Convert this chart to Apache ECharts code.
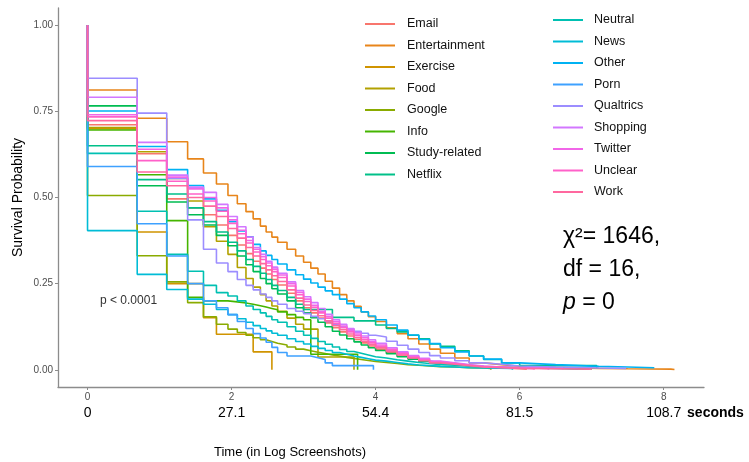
<!DOCTYPE html>
<html><head><meta charset="utf-8">
<script src="https://cdn.jsdelivr.net/npm/echarts@6/dist/echarts.min.js"></script>
<style>html,body{margin:0;padding:0;background:#fff}#c{width:749px;height:462px}</style>
</head><body><div id="c"></div>
<script>
// time grid (log of screenshot count)
const TIMES = [0, 0.69, 1.10, 1.39, 1.61, 1.79, 1.95, 2.08, 2.20, 2.30, 2.40, 2.48, 2.56, 2.64, 2.77, 2.89, 3.00,
  3.10, 3.20, 3.30, 3.40, 3.50, 3.60, 3.70, 3.80, 3.90, 4.00, 4.15, 4.30, 4.45, 4.60, 4.75, 4.90, 5.10, 5.30, 5.50, 5.75, 6.00, 6.50, 7.10, 7.50, 8.10];
const LEFT_NAMES = ['Email','Entertainment','Exercise','Food','Google','Info','Study-related','Netflix'];
const RIGHT_NAMES = ['Neutral','News','Other','Porn','Qualtrics','Shopping','Twitter','Unclear','Work'];
const COLORS = ['#F8766D','#E8851A','#D09400','#B2A100','#8AAB00','#45B500','#00BC52','#00C089','#00C0B2','#00BCD6','#00B2F3','#3EA1FF','#9C8DFF','#D277FF','#F166E8','#FF61C9','#FF689F'];

const email = [0.711,0.627,0.496,0.47,0.45,0.42,0.39,0.362,0.337,0.315,0.295,0.278,0.262,0.246,0.222,0.2,0.18,
  0.165,0.15,0.136,0.122,0.11,0.098,0.088,0.078,0.069,0.06,0.05,0.04,0.032,0.025,0.019,0.015,0.011,0.007,0.005,0.003,0.002];
const entertainment = [0.812,0.73,0.662,0.612,0.571,0.539,0.506,0.482,0.459,0.438,0.417,0.40,0.385,0.37,0.35,0.33,0.312,
  0.295,0.278,0.257,0.237,0.218,0.2,0.184,0.168,0.154,0.14,0.122,0.105,0.09,0.075,0.06,0.048,0.034,0.02,0.015,0.01,0.007,0.004,0.003,0.002,0.001];
const exercise = [0.70,0.40,0.25,0.25,0.151,0.103,0.103,0.103,0.103,0.052,0.052,0.052];
const food = [0.703,0.633,0.555,0.49,0.415,0.373,0.335,0.297,0.265,0.24,0.218,0.2,0.185,0.17,0.15,0.132,0.118,
  0.118,0.037,0.037,0.037,0.037,0.037];
const google = [0.506,0.331,0.255,0.195,0.154,0.132,0.118,0.108,0.1,0.093,0.087,0.082,0.077,0.072,0.066,0.06,0.055,
  0.051,0.047,0.043,0.04,0.036,0.033,0.03,0.027,0.024,0.021,0.018,0.015,0.013,0.011,0.009,0.008,0.006,0.005,0.004];
const info = [0.696,0.566,0.433,0.21,0.2,0.2,0.197,0.194,0.19,0.186,0.182,0.178,0.174,0.168,0.16,0.152,0.145,
  0.045,0.045,0.045,0.045,0.045,0.045,0.045];
const studyRelated = [0.766,0.534,0.487,0.45,0.42,0.39,0.36,0.33,0.305,0.285,0.265,0.25,0.235,0.22,0.2,0.18,0.165,
  0.151,0.138,0.125,0.112,0.101,0.09,0.081,0.072,0.064,0.056,0.047,0.038,0.031,0.025,0.02,0.016,0.012,0.009,0.007,0.005,0.004,0.002];
const netflix = [0.65,0.552,0.51,0.47,0.43,0.40,0.37,0.345,0.32,0.3,0.28,0.262,0.245,0.23,0.21,0.19,0.175,
  0.175,0.175,0.175,0.152,0.152,0.152,0.142,0.142,0.142,0.13,0.12,0.11,0.1,0.09,0.075,0.068,0.055,0.04,0.03,0.02,0.012,0.012];
const neutral = [0.628,0.46,0.335,0.286,0.245,0.224,0.214,0.2,0.185,0.175,0.165,0.155,0.145,0.138,0.125,0.112,0.1,
  0.091,0.082,0.074,0.066,0.059,0.053,0.048,0.043,0.038,0.034,0.029,0.025,0.021,0.018,0.015,0.013,0.011,0.009,0.008,0.006,0.005,0.003];
const news = [0.404,0.277,0.233,0.205,0.19,0.175,0.16,0.148,0.138,0.128,0.12,0.113,0.106,0.1,0.09,0.082,0.075,
  0.068,0.062,0.056,0.05,0.045,0.04,0.036,0.032,0.028,0.025,0.021,0.017,0.014,0.012,0.01,0.008,0.006,0.005,0.004];
const other = [0.751,0.648,0.581,0.535,0.496,0.463,0.43,0.403,0.386,0.364,0.345,0.332,0.32,0.307,0.29,0.276,0.263,
  0.252,0.24,0.229,0.218,0.205,0.192,0.18,0.168,0.156,0.145,0.13,0.115,0.101,0.088,0.076,0.064,0.052,0.04,0.031,0.02,0.015,0.01,0.008,0.006];
const porn = [0.59,0.424,0.33,0.25,0.2,0.18,0.16,0.14,0.12,0.105,0.092,0.08,0.065,0.05,0.04,0.04,0.04,
  0.035,0.03,0.02,0.012,0.012,0.012,0.012,0.012,0.012];
const qualtrics = [0.846,0.745,0.555,0.435,0.35,0.31,0.285,0.262,0.245,0.232,0.22,0.21,0.2,0.19,0.178,0.17,0.163,
  0.155,0.148,0.14,0.132,0.125,0.118,0.112,0.106,0.1,0.095,0.083,0.071,0.06,0.05,0.041,0.034,0.026,0.02,0.016,0.011,0.008,0.005,0.004];
const shopping = [0.791,0.66,0.565,0.53,0.515,0.48,0.445,0.415,0.385,0.355,0.335,0.315,0.298,0.28,0.255,0.23,0.212,
  0.195,0.178,0.161,0.145,0.132,0.12,0.109,0.098,0.087,0.077,0.064,0.052,0.041,0.033,0.025,0.02,0.015,0.011,0.008,0.006,0.004];
const twitter = [0.74,0.64,0.559,0.525,0.5,0.47,0.435,0.405,0.375,0.35,0.328,0.31,0.292,0.275,0.25,0.225,0.205,
  0.187,0.17,0.155,0.14,0.127,0.115,0.104,0.093,0.082,0.072,0.06,0.049,0.039,0.031,0.024,0.019,0.014,0.01,0.008,0.006,0.004];
const unclear = [0.734,0.607,0.547,0.51,0.49,0.46,0.425,0.395,0.368,0.342,0.32,0.302,0.285,0.268,0.243,0.218,0.198,
  0.181,0.165,0.15,0.135,0.122,0.11,0.099,0.088,0.078,0.068,0.057,0.046,0.036,0.028,0.022,0.018,0.013,0.009,0.007,0.005,0.003];
const work = [0.723,0.574,0.534,0.5,0.475,0.445,0.41,0.382,0.355,0.33,0.308,0.29,0.273,0.256,0.232,0.208,0.188,
  0.172,0.157,0.142,0.128,0.116,0.104,0.093,0.083,0.073,0.064,0.053,0.043,0.034,0.026,0.02,0.016,0.012,0.008,0.006,0.004,0.003,0.002];

// last observation per series (time, survival)
const END_TIME  = [6.1, 8.15, 2.56, 3.70, 5.6, 3.75, 7.0, 7.07, 6.8, 5.9, 7.87, 3.97, 7.48, 6.6, 6.4, 6.2, 7.0];
const END_VALUE = [0, 0, 0, 0, 0, 0, 0, 0.005, 0, 0, 0.005, 0, 0.003, 0, 0, 0, 0];

const X_TICKS = [0, 2, 4, 6, 8];
const SECONDS_LABELS = ['0', '27.1', '54.4', '81.5', '108.7'];
const Y_TICKS = [0, 0.25, 0.5, 0.75, 1];

const NAMES = LEFT_NAMES.concat(RIGHT_NAMES);
const VALUES = [email, entertainment, exercise, food, google, info, studyRelated, netflix, neutral, news, other, porn, qualtrics, shopping, twitter, unclear, work];

const FONT = 'Liberation Sans, Arial, sans-serif';

const series = NAMES.map((name, i) => {
  const data = [[0, 1]];
  VALUES[i].forEach((v, j) => data.push([TIMES[j], v]));
  data.push([END_TIME[i], END_VALUE[i]]);
  return {
    name, type: 'line', step: 'end', data,
    showSymbol: false, symbol: 'none',
    lineStyle: { width: 1.6, color: COLORS[i] },
    itemStyle: { color: COLORS[i] },
    emphasis: { disabled: true },
    animation: false
  };
});

const legendText = (padLeft) => ({ fontSize: 12.5, color: '#111', fontFamily: FONT, lineHeight: 14, padding: [0, 0, 0, padLeft] });

const chart = echarts.init(document.getElementById('c'), null, { renderer: 'canvas' });
chart.setOption({
  backgroundColor: '#fff',
  animation: false,
  grid: { left: 58, right: 45, top: 8, bottom: 75 },
  legend: [
    { data: LEFT_NAMES, orient: 'vertical', left: 360, top: 12, itemWidth: 30, itemHeight: 2, itemGap: 7.5, icon: 'rect', selectedMode: false, textStyle: legendText(7) },
    { data: RIGHT_NAMES, orient: 'vertical', left: 548, top: 8, itemWidth: 30, itemHeight: 2, itemGap: 7.5, icon: 'rect', selectedMode: false, textStyle: legendText(6) }
  ],
  xAxis: [
    {
      type: 'value', min: -0.41, max: 8.56,
      axisLine: { show: true, onZero: false, lineStyle: { color: '#8c8c8c', width: 1.3 } },
      axisTick: { show: true, customValues: X_TICKS, length: 3, lineStyle: { color: '#8c8c8c' } },
      axisLabel: { customValues: X_TICKS, fontSize: 10, color: '#4d4d4d', margin: 5, fontFamily: FONT },
      splitLine: { show: false }
    },
    {
      type: 'value', min: -0.41, max: 8.56, position: 'bottom', offset: 26,
      axisLine: { show: false, onZero: false }, axisTick: { show: false }, splitLine: { show: false },
      axisLabel: {
        customValues: X_TICKS, fontSize: 14, color: '#000', margin: -7, fontFamily: FONT,
        formatter: (v) => SECONDS_LABELS[X_TICKS.indexOf(v)]
      },
      name: 'seconds', nameLocation: 'end', nameGap: -17,
      nameTextStyle: { fontSize: 14, fontWeight: 'bold', color: '#000', fontFamily: FONT }
    }
  ],
  yAxis: {
    type: 'value', min: -0.05, max: 1.05,
    axisLine: { show: true, onZero: false, lineStyle: { color: '#8c8c8c', width: 1.3 } },
    axisTick: { show: true, customValues: Y_TICKS, length: 3, lineStyle: { color: '#8c8c8c' } },
    axisLabel: { customValues: Y_TICKS, fontSize: 10, color: '#4d4d4d', margin: 5, fontFamily: FONT, formatter: (v) => v.toFixed(2) },
    splitLine: { show: false },
    name: 'Survival Probability', nameLocation: 'middle', nameGap: 33, nameMoveOverlap: false,
    nameTextStyle: { fontSize: 14, color: '#000', fontFamily: FONT }
  },
  graphic: [
    { type: 'text', left: 100, top: 295, style: { text: 'p < 0.0001', fontSize: 12, fill: '#333', fontFamily: FONT } },
    { type: 'text', x: 290, y: 452, style: { text: 'Time (in Log Screenshots)', fontSize: 13, fill: '#000', fontFamily: FONT, align: 'center', verticalAlign: 'middle' } },
    { type: 'text', x: 563, y: 237, style: { text: 'χ²= 1646,', fontSize: 23, fill: '#000', fontFamily: FONT, verticalAlign: 'middle' } },
    { type: 'text', x: 563, y: 270, style: { text: 'df = 16,', fontSize: 23, fill: '#000', fontFamily: FONT, verticalAlign: 'middle' } },
    { type: 'text', x: 563, y: 303, style: { text: '{i|p} = 0', fontSize: 23, fill: '#000', fontFamily: FONT, verticalAlign: 'middle',
        rich: { i: { fontSize: 23, fontStyle: 'italic', fontFamily: FONT, fill: '#000' } } } }
  ],
  series
});
</script></body></html>
